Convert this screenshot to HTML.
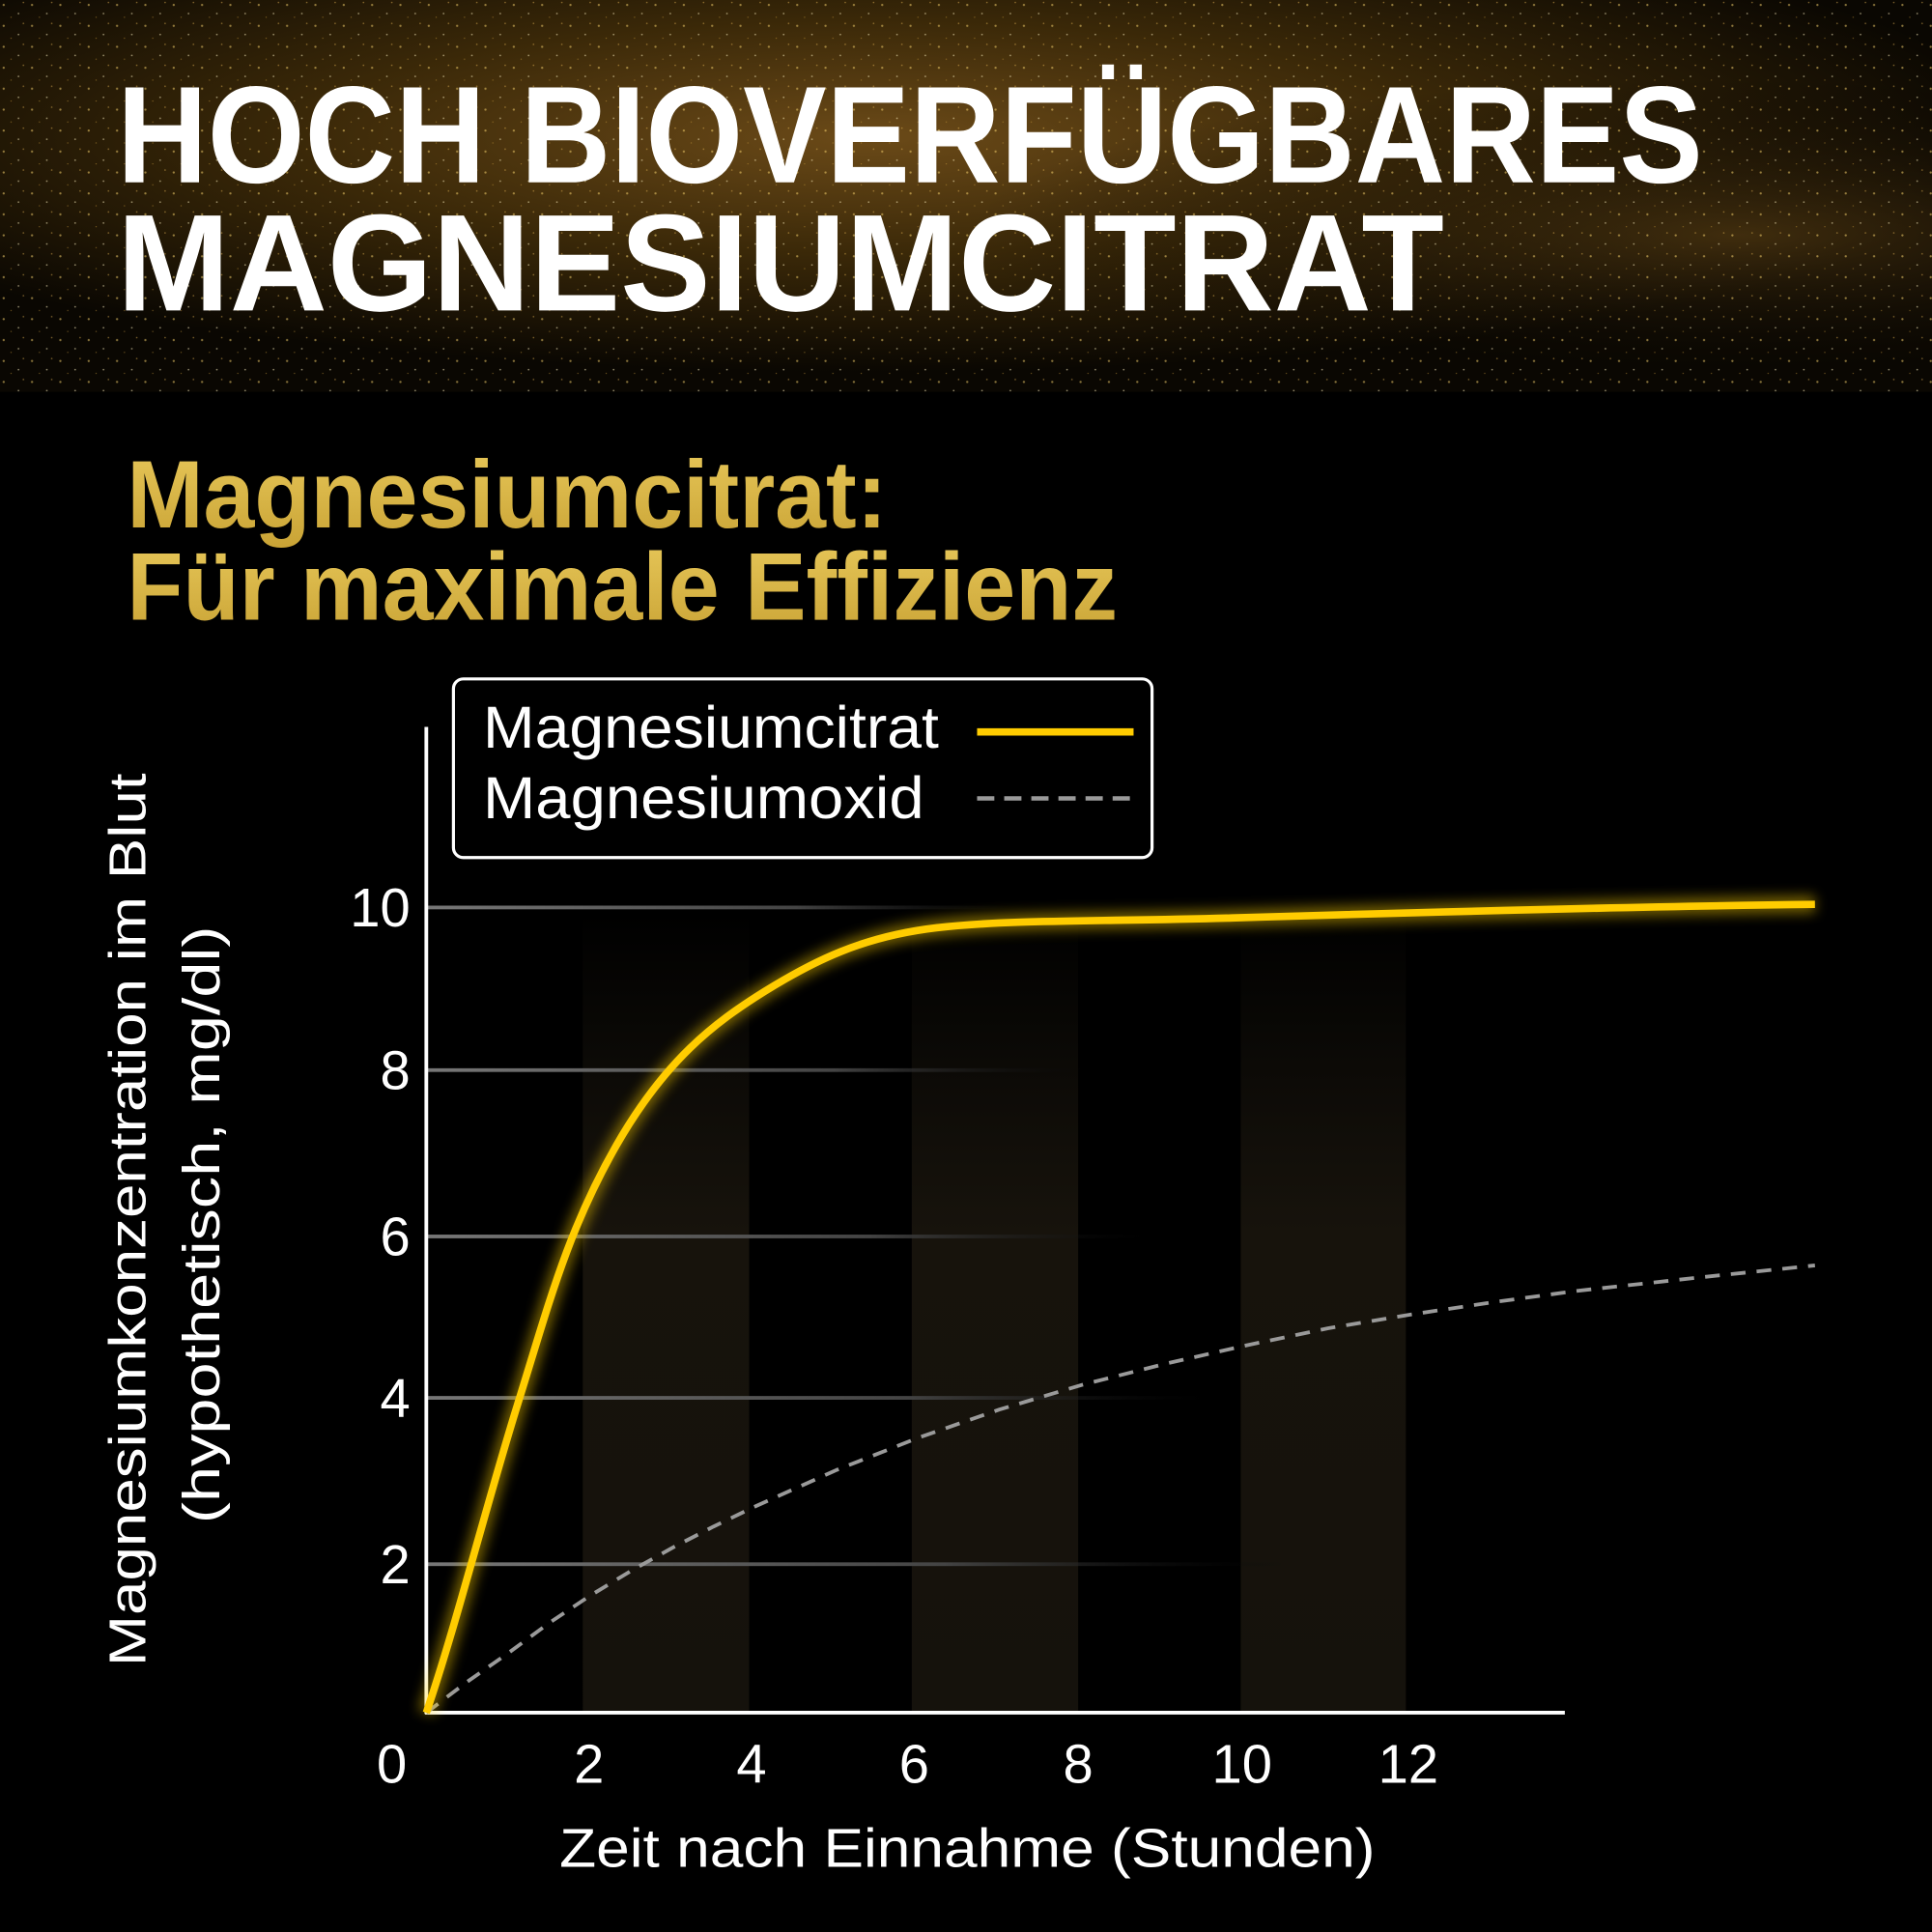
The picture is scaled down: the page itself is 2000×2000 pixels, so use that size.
<!DOCTYPE html>
<html><head><meta charset="utf-8"><style>
html,body{margin:0;padding:0;background:#000;}
svg{display:block;}
text{font-family:"Liberation Sans",sans-serif;}
</style></head><body>
<svg width="2000" height="2000" viewBox="0 0 1568 1568" xmlns="http://www.w3.org/2000/svg">
<defs>
<radialGradient id="g1" cx="0.45" cy="0.35" r="0.6">
<stop offset="0" stop-color="#6b4a18"/><stop offset="0.5" stop-color="#3a2808"/><stop offset="1" stop-color="#0a0702"/>
</radialGradient>
<radialGradient id="g2" cx="0.9" cy="0.6" r="0.4">
<stop offset="0" stop-color="#4a3410" stop-opacity="0.8"/><stop offset="1" stop-color="#000" stop-opacity="0"/>
</radialGradient>
<linearGradient id="gold" x1="0" y1="0" x2="0" y2="1">
<stop offset="0" stop-color="#e8c85a"/><stop offset="1" stop-color="#c9a335"/>
</linearGradient>
<linearGradient id="band" x1="0" y1="0" x2="0" y2="1">
<stop offset="0" stop-color="#1a160e" stop-opacity="0"/><stop offset="0.4" stop-color="#17130c"/><stop offset="1" stop-color="#15120c"/>
</linearGradient>
<linearGradient id="grid" x1="0" y1="0" x2="1" y2="0">
<stop offset="0" stop-color="#777"/><stop offset="0.6" stop-color="#444"/><stop offset="1" stop-color="#000" stop-opacity="0"/>
</linearGradient>
<filter id="glow" x="-10%" y="-10%" width="120%" height="120%"><feGaussianBlur stdDeviation="5"/></filter>
<pattern id="sp" width="23" height="17" patternUnits="userSpaceOnUse">
<circle cx="3" cy="4" r="0.9" fill="#f3cf6a"/><circle cx="15" cy="11" r="0.7" fill="#fff2c0"/><circle cx="9" cy="14" r="0.5" fill="#c99a3a"/><circle cx="19" cy="2" r="0.6" fill="#e0b050"/>
</pattern>
</defs>
<rect width="1568" height="1568" fill="#000"/>
<rect width="1568" height="318" fill="url(#g1)"/>
<rect width="1568" height="318" fill="url(#g2)"/>
<rect width="1568" height="318" fill="url(#sp)" opacity="0.55"/>
<text x="95" y="148" font-size="112" font-weight="bold" fill="#fff" textLength="1287" lengthAdjust="spacingAndGlyphs">HOCH BIOVERFÜGBARES</text>
<text x="95" y="252" font-size="112" font-weight="bold" fill="#fff" textLength="1077" lengthAdjust="spacingAndGlyphs">MAGNESIUMCITRAT</text>
<text x="103" y="428" font-size="78" font-weight="bold" fill="url(#gold)" textLength="617" lengthAdjust="spacingAndGlyphs">Magnesiumcitrat:</text>
<text x="103" y="503" font-size="78" font-weight="bold" fill="url(#gold)" textLength="804" lengthAdjust="spacingAndGlyphs">Für maximale Effizienz</text>
<rect x="473" y="740" width="135" height="650" fill="url(#band)"/>
<rect x="740" y="740" width="135" height="650" fill="url(#band)"/>
<rect x="1007" y="740" width="134" height="650" fill="url(#band)"/>
<rect x="346" y="735" width="500" height="3" fill="url(#grid)"/>
<rect x="346" y="867" width="550" height="3" fill="url(#grid)"/>
<rect x="346" y="1002" width="600" height="3" fill="url(#grid)"/>
<rect x="346" y="1133" width="650" height="3" fill="url(#grid)"/>
<rect x="346" y="1268" width="700" height="3" fill="url(#grid)"/>
<line x1="346" y1="590" x2="346" y2="1391" stroke="#fff" stroke-width="3"/>
<line x1="345" y1="1390" x2="1270" y2="1390" stroke="#fff" stroke-width="3"/>
<g fill="#fff" font-size="44" text-anchor="end">
<text x="333" y="752">10</text><text x="333" y="884">8</text><text x="333" y="1019">6</text><text x="333" y="1150">4</text><text x="333" y="1285">2</text>
</g>
<g fill="#fff" font-size="44" text-anchor="middle">
<text x="318" y="1447">0</text><text x="478" y="1447">2</text><text x="610" y="1447">4</text><text x="742" y="1447">6</text><text x="875" y="1447">8</text><text x="1008" y="1447">10</text><text x="1143" y="1447">12</text>
</g>
<text x="785" y="1515" font-size="44" fill="#fff" text-anchor="middle" textLength="662" lengthAdjust="spacingAndGlyphs">Zeit nach Einnahme (Stunden)</text>
<g transform="translate(118,990) rotate(-90)"><text x="0" y="0" font-size="42" fill="#fff" text-anchor="middle" textLength="725" lengthAdjust="spacingAndGlyphs">Magnesiumkonzentration im Blut</text></g>
<g transform="translate(178,994) rotate(-90)"><text x="0" y="0" font-size="42" fill="#fff" text-anchor="middle" textLength="485" lengthAdjust="spacingAndGlyphs">(hypothetisch, mg/dl)</text></g>
<polyline points="346,1390 379,1365 412,1342 446,1317 479,1295 512,1275 546,1256 579,1239 612,1223 679,1193 745,1167 811,1144 878,1124 945,1107 1011,1092 1078,1078 1144,1067 1211,1057 1277,1048 1377,1037 1473,1027" fill="none" stroke="#9a9a9a" stroke-width="3" stroke-dasharray="12,9" stroke-linejoin="round"/>
<path d="M346,1390 C370,1320 395,1220 420,1140 S460,1000 500,930 S580,830 620,805 S700,760 760,753 S900,748 1000,745 S1300,736 1473,734" fill="none" stroke="#ffd200" stroke-width="14" opacity="0.45" filter="url(#glow)"/>
<path d="M346,1390 C370,1320 395,1220 420,1140 S460,1000 500,930 S580,830 620,805 S700,760 760,753 S900,748 1000,745 S1300,736 1473,734" fill="none" stroke="#ffcc00" stroke-width="6"/>
<rect x="368" y="551" width="567" height="145" rx="8" fill="#000" stroke="#fff" stroke-width="2.5"/>
<text x="392" y="607" font-size="48" fill="#fff" textLength="370" lengthAdjust="spacingAndGlyphs">Magnesiumcitrat</text>
<text x="392" y="664" font-size="48" fill="#fff" textLength="358" lengthAdjust="spacingAndGlyphs">Magnesiumoxid</text>
<line x1="793" y1="594" x2="920" y2="594" stroke="#ffcc00" stroke-width="6"/>
<line x1="793" y1="648" x2="920" y2="648" stroke="#9a9a9a" stroke-width="3.5" stroke-dasharray="14,8"/>
</svg>
</body></html>
